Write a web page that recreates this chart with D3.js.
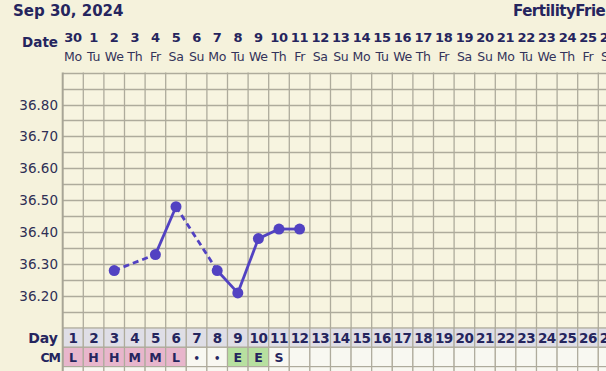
<!DOCTYPE html>
<html><head><meta charset="utf-8">
<script src="https://cdn.jsdelivr.net/npm/d3@7"></script>
<style>
html,body{margin:0;padding:0;background:#f5f2dc;overflow:hidden;}
svg{display:block;}
</style></head>
<body>
<script>
// ---- data ----
const title = "Sep 30, 2024";
const brand = "FertilityFriend";
const days = d3.range(1, 28);
const dateLabels = [30,1,2,3,4,5,6,7,8,9,10,11,12,13,14,15,16,17,18,19,20,21,22,23,24,25,26];
const weekdays = ["Mo","Tu","We","Th","Fr","Sa","Su","Mo","Tu","We","Th","Fr","Sa","Su","Mo","Tu","We","Th","Fr","Sa","Su","Mo","Tu","We","Th","Fr","Sa"];
const tempDays = [3, 5, 6, 8, 9, 10, 11, 12];
const temps    = [36.28, 36.33, 36.48, 36.28, 36.21, 36.38, 36.41, 36.41];
const yTicks = [36.20, 36.30, 36.40, 36.50, 36.60, 36.70, 36.80];
const cmValues = ["L","H","H","M","M","L","•","•","E","E","S"];
const cmColor = {L:"#e8b6cc", H:"#e8b6cc", M:"#e8b6cc", E:"#b7e0a0"};

// ---- layout ----
const W = 606, H = 371;
const plotLeft = 62.7, colW = 20.6;
const plotTop = 72.6, plotBottom = 328;
const rowH = 19.3;
const ink = "#25255e";
const gridC = "#aeab9c";
const lineC = "#5242c2";

const svg = d3.select("body").append("svg").attr("width", W).attr("height", H);

const x = d3.scaleBand().domain(days).range([plotLeft, plotLeft + days.length * colW]).paddingInner(0).paddingOuter(0);
const y = d3.scaleLinear().domain([36.10, 36.90]).range([plotBottom, plotTop]);

// plot background
svg.append("rect").attr("x", plotLeft).attr("y", plotTop).attr("width", W - plotLeft).attr("height", plotBottom - plotTop).attr("fill", "#f7f4e0");

// horizontal grid lines (every 0.05)
const hLines = d3.range(0, 17).map(i => 36.10 + i * 0.05);
svg.append("g").selectAll("line").data(hLines).join("line")
  .attr("x1", plotLeft).attr("x2", W)
  .attr("y1", d => Math.round(y(d)) + 0.5).attr("y2", d => Math.round(y(d)) + 0.5)
  .attr("stroke", gridC).attr("stroke-width", 1.3);

// vertical grid lines
svg.append("g").selectAll("line").data(days).join("line")
  .attr("x1", d => x(d) + colW).attr("x2", d => x(d) + colW)
  .attr("y1", plotTop).attr("y2", H)
  .attr("stroke", gridC).attr("stroke-width", 1.3);

// day row
const dayY = plotBottom;
svg.append("g").selectAll("rect").data(days).join("rect")
  .attr("x", d => x(d)).attr("y", dayY).attr("width", colW).attr("height", rowH)
  .attr("fill", "#dfdee6").attr("stroke", gridC).attr("stroke-width", 1.2);
svg.append("g").selectAll("text").data(days).join("text")
  .attr("x", d => x(d) + colW / 2).attr("y", dayY + 15)
  .attr("text-anchor", "middle").attr("font-family", "DejaVu Sans").attr("font-weight", "bold")
  .attr("font-size", 13.5).attr("fill", ink).attr("letter-spacing", -0.5).text(d => d);

// CM row
const cmY = dayY + rowH;
svg.append("g").selectAll("rect").data(days).join("rect")
  .attr("x", d => x(d)).attr("y", cmY).attr("width", colW).attr("height", rowH)
  .attr("fill", (d, i) => cmColor[cmValues[i]] || "#f8f8f1").attr("stroke", gridC).attr("stroke-width", 1.2);
svg.append("g").selectAll("text").data(cmValues).join("text")
  .attr("x", (d, i) => x(days[i]) + colW / 2).attr("y", cmY + 14.5)
  .attr("text-anchor", "middle").attr("font-family", "DejaVu Sans").attr("font-weight", "bold")
  .attr("font-size", d => d === "•" ? 10 : 12.5).attr("fill", ink).text(d => d);

// row below CM
const nextY = cmY + rowH;
svg.append("g").selectAll("rect").data(days).join("rect")
  .attr("x", d => x(d)).attr("y", nextY).attr("width", colW).attr("height", rowH)
  .attr("fill", "#f8f8f1").attr("stroke", gridC).attr("stroke-width", 1.2);

// left border
svg.append("line").attr("x1", plotLeft).attr("x2", plotLeft).attr("y1", plotTop).attr("y2", H)
  .attr("stroke", "#a8a596").attr("stroke-width", 2);

// row labels
svg.append("text").attr("x", 58).attr("y", dayY + 15).attr("text-anchor", "end")
  .attr("font-family", "DejaVu Sans").attr("font-weight", "bold").attr("font-size", 14).attr("fill", ink).text("Day");
svg.append("text").attr("x", 60).attr("y", cmY + 14.5).attr("text-anchor", "end")
  .attr("font-family", "DejaVu Sans").attr("font-weight", "bold").attr("font-size", 12.5).attr("letter-spacing", -1).attr("fill", ink).text("CM");

// y axis labels
svg.append("g").selectAll("text").data(yTicks).join("text")
  .attr("x", 58).attr("y", d => y(d) + 5).attr("text-anchor", "end")
  .attr("font-family", "DejaVu Sans").attr("font-size", 13.5).attr("fill", "#2f2f55")
  .text(d => d3.format(".2f")(d));

// title and brand
svg.append("text").attr("x", 13).attr("y", 15.5).attr("font-family", "DejaVu Sans").attr("font-weight", "bold")
  .attr("font-size", 15).attr("fill", ink).text(title);
svg.append("text").attr("x", 513).attr("y", 15.5).attr("font-family", "DejaVu Sans").attr("font-weight", "bold")
  .attr("font-size", 15).attr("letter-spacing", -0.5).attr("fill", ink).text(brand);

// date header
svg.append("text").attr("x", 58).attr("y", 47).attr("text-anchor", "end")
  .attr("font-family", "DejaVu Sans").attr("font-weight", "bold").attr("font-size", 13.5).attr("fill", ink).text("Date");
svg.append("g").selectAll("text").data(days).join("text")
  .attr("x", d => x(d) + colW / 2).attr("y", 42).attr("text-anchor", "middle")
  .attr("font-family", "DejaVu Sans").attr("font-weight", "bold").attr("font-size", 13).attr("letter-spacing", -0.3)
  .attr("fill", ink).text((d, i) => dateLabels[i]);
svg.append("g").selectAll("text").data(days).join("text")
  .attr("x", d => x(d) + colW / 2).attr("y", 61).attr("text-anchor", "middle")
  .attr("font-family", "DejaVu Sans").attr("font-size", 12.5).attr("letter-spacing", -0.3)
  .attr("fill", "#33335a").text((d, i) => weekdays[i]);

// temperature line segments
const pts = tempDays.map((d, i) => ({day: d, t: temps[i]}));
const segs = d3.pairs(pts);
const cx = d => x(d.day) + colW / 2;
svg.append("g").selectAll("line").data(segs).join("line")
  .attr("x1", s => cx(s[0])).attr("y1", s => y(s[0].t))
  .attr("x2", s => cx(s[1])).attr("y2", s => y(s[1].t))
  .attr("stroke", lineC).attr("stroke-width", 2.8)
  .attr("stroke-dasharray", s => (s[1].day - s[0].day > 1) ? "6,4" : null);
svg.append("g").selectAll("circle").data(pts).join("circle")
  .attr("cx", cx).attr("cy", d => y(d.t)).attr("r", 5.5).attr("fill", lineC);
</script>
</body></html>
